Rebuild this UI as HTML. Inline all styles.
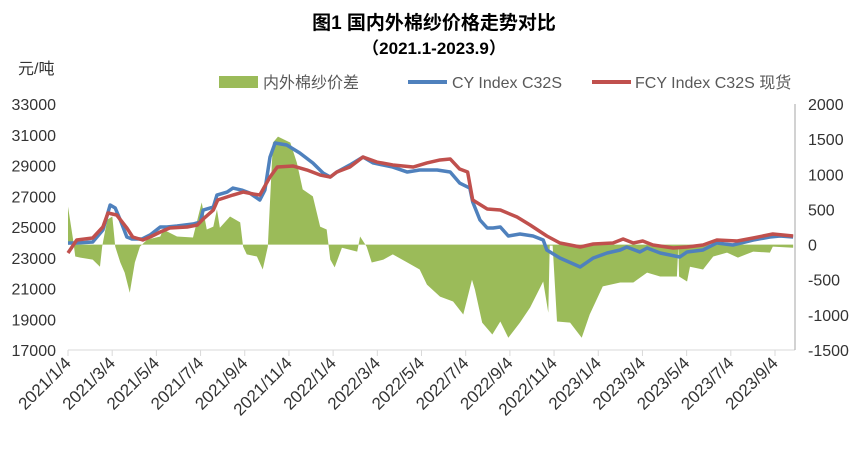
<!DOCTYPE html>
<html><head><meta charset="utf-8">
<style>
html,body{margin:0;padding:0;background:#fff;}
body{width:866px;height:453px;overflow:hidden;font-family:"Liberation Sans","Noto Sans CJK SC",sans-serif;}
svg text{font-family:"Liberation Sans","Noto Sans CJK SC",sans-serif;}
</style></head>
<body>
<svg id="chart" width="866" height="453">
  <text x="434" y="29" text-anchor="middle" font-size="19" font-weight="bold" fill="#000">图1 国内外棉纱价格走势对比</text>
  <text x="434" y="54" text-anchor="middle" font-size="17" font-weight="bold" fill="#000">（2021.1-2023.9）</text>
  <text x="18" y="74" font-size="16" fill="#333">元/吨</text>
  <g>
    <rect x="219" y="76" width="39" height="12" fill="#9BBB59"/>
    <text x="263" y="88" font-size="16" fill="#595959">内外棉纱价差</text>
    <line x1="408" y1="82" x2="447" y2="82" stroke="#4F81BD" stroke-width="4"/>
    <text x="452" y="88" font-size="16" fill="#595959">CY Index C32S</text>
    <line x1="592" y1="82" x2="631" y2="82" stroke="#C0504D" stroke-width="4"/>
    <text x="635" y="88" font-size="16" fill="#595959">FCY Index C32S 现货</text>
  </g>
  <g id="plot"></g>
</svg>
<script>
const leftTicks=[33000,31000,29000,27000,25000,23000,21000,19000,17000];
const rightTicks=[2000,1500,1000,500,0,-500,-1000,-1500];
const xLabels=["2021/1/4","2021/3/4","2021/5/4","2021/7/4","2021/9/4","2021/11/4","2022/1/4","2022/3/4","2022/5/4","2022/7/4","2022/9/4","2022/11/4","2023/1/4","2023/3/4","2023/5/4","2023/7/4","2023/9/4"];
// day offsets from 2021-01-04
const cyDays=[0,12,34,48,58,65,72,81,88,102,113,127,136,150,172,182,186,200,205,219,227,239,250,264,271,278,285,301,319,337,351,361,370,388,406,420,447,467,484,508,526,539,553,557,567,577,585,595,606,622,640,654,659,677,705,723,742,760,769,787,797,815,842,852,874,893,915,943,966,980,998];
const cyValues=[23960,23960,24025,24805,26430,26235,25455,24350,24220,24220,24480,25000,25000,25065,25195,25325,26105,26300,27080,27275,27535,27405,27210,26755,27405,29550,30465,30335,29815,29165,28510,28250,28575,29035,29550,29165,28900,28575,28705,28705,28575,27860,27535,26625,25455,24935,24935,25000,24415,24545,24415,24155,23505,22985,22400,22985,23310,23505,23700,23375,23635,23310,23050,23375,23505,23960,23830,24155,24350,24415,24350];
const fcyDays=[0,12,34,48,55,67,81,89,103,113,127,140,164,178,186,200,206,227,241,255,264,278,288,310,329,347,361,370,388,406,425,447,475,494,512,526,539,550,557,577,595,618,636,659,677,705,723,750,764,778,791,805,833,852,874,893,921,943,970,998];
const fcyValues=[23310,24155,24285,25000,25910,25780,24935,24350,24155,24350,24675,24935,25000,25130,25520,26105,26755,27080,27275,27145,27080,28250,28900,28965,28705,28380,28250,28575,28900,29550,29225,29035,28900,29165,29360,29425,28770,28575,26755,26170,26105,25650,25130,24415,23960,23700,23895,23960,24220,23960,24090,23830,23635,23700,23830,24155,24090,24285,24545,24415];
const diffDays=[0,7,10,17,34,44,47,54,61,65,72,78,85,92,99,109,127,131,150,172,184,191,200,205,209,223,237,241,246,260,268,275,282,289,306,315,323,337,347,356,361,367,377,398,402,411,418,434,447,467,484,494,512,530,544,556,560,570,584,595,606,622,636,654,661,663,667,673,691,707,718,736,760,778,797,815,833,838,840,841,852,856,874,888,907,922,943,966,970,998];
const diffValues=[540,70,-170,-185,-215,-315,-30,355,400,-30,-255,-400,-685,-255,-30,70,115,215,115,100,600,215,255,500,240,400,315,-30,-140,-170,-355,-30,1450,1535,1450,1165,785,685,255,215,-215,-325,-45,-100,115,-30,-255,-215,-140,-255,-355,-570,-740,-810,-995,-500,-640,-1110,-1280,-1095,-1325,-1110,-895,-525,-970,-15,-15,-1095,-1110,-1325,-995,-595,-540,-540,-400,-455,-455,-455,-15,-455,-525,-315,-355,-170,-115,-185,-100,-115,-30,-45];

const X0=68,PXDAY=0.7266,YT=104,YB=350;
const xS=d=>X0+d*PXDAY;
const yL=v=>YT+(33000-v)/16000*(YB-YT);
const yR=v=>YT+(2000-v)/3500*(YB-YT);
const NS="http://www.w3.org/2000/svg";
const plot=document.getElementById('plot');
function mk(tag,attrs){const e=document.createElementNS(NS,tag);for(const k in attrs)e.setAttribute(k,attrs[k]);plot.appendChild(e);return e;}

let d="M"+xS(diffDays[0])+","+yR(0);
diffDays.forEach((t,i)=>{d+=" L"+xS(t)+","+yR(diffValues[i]);});
d+=" L"+xS(diffDays[diffDays.length-1])+","+yR(0)+" Z";
const area=mk('path',{d:d,fill:'#9BBB59'});



function line(days,vals,color,name){
  const p=days.map((t,i)=>xS(t)+","+yL(vals[i])).join(" ");
  const e=mk('polyline',{points:p,fill:'none',stroke:color,'stroke-width':3.5,'stroke-linejoin':'round'});
  
  
}
line(cyDays,cyValues,'#4F81BD','cy-index-line');
line(fcyDays,fcyValues,'#C0504D','fcy-index-line');

const xa=mk('line',{x1:X0,y1:YB,x2:795,y2:YB,stroke:'#D9D9D9','stroke-width':1});


const ra=mk('line',{x1:795,y1:YT,x2:795,y2:YB,stroke:'#A6A6A6','stroke-width':1});



leftTicks.forEach(v=>{
  const t=mk('text',{x:56,y:yL(v)+6,'text-anchor':'end','font-size':16,fill:'#333'});
  t.textContent=v;
  
  
});
rightTicks.forEach(v=>{
  const t=mk('text',{x:808,y:yR(v)+6,'font-size':16,fill:'#333'});
  t.textContent=v;
  
  
});
const spacing=(775-X0)/(xLabels.length-1);
xLabels.forEach((s,i)=>{
  const x=X0+i*spacing;
  const tk=mk('line',{x1:x,y1:YB,x2:x,y2:YB+6,stroke:'#D9D9D9'});
  
  
  const t=mk('text',{x:x+4,y:YB+14,'text-anchor':'end','font-size':17,fill:'#333',transform:`rotate(-45 ${x+4} ${YB+14})`});
  t.textContent=s;
  
  
});
</script>
</body></html>
